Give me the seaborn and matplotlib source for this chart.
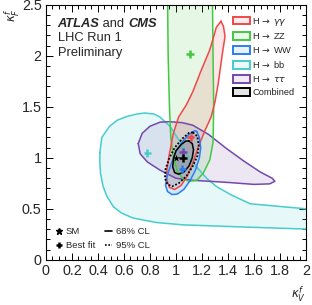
import matplotlib
matplotlib.use('Agg')
import numpy as np
import pandas as pd
import matplotlib.pyplot as plt
from matplotlib.patches import Patch
from matplotlib.lines import Line2D
from matplotlib.ticker import MultipleLocator, FuncFormatter
import seaborn as sns

sns.set_theme(style='ticks')
plt.rcParams['font.family'] = ['Liberation Sans', 'DejaVu Sans']
plt.rcParams['mathtext.fontset'] = 'dejavusans'

# ─── Contours (68% CL per channel) ───────────────────────────
bb_x = [0.415, 0.43, 0.49, 0.55, 0.62, 0.70, 0.76, 0.83, 0.877, 0.954, 1.02, 1.09, 1.16,
        1.236, 1.31, 1.42, 1.57, 1.83, 2.05, 2.05, 1.57, 1.056, 0.85, 0.67, 0.58, 0.52,
        0.47, 0.44, 0.42, 0.415, 0.415]
bb_y = [1.05, 1.20, 1.31, 1.37, 1.405, 1.43, 1.44, 1.43, 1.40, 1.31, 1.18, 1.03, 0.91,
        0.80, 0.72, 0.64, 0.55, 0.52, 0.495, 0.30, 0.32, 0.343, 0.366, 0.41, 0.46, 0.52,
        0.62, 0.72, 0.85, 0.95, 1.05]

tt_x = [0.71, 0.74, 0.80, 0.877, 0.95, 1.05, 1.13, 1.25, 1.39, 1.52, 1.65, 1.74, 1.76,
        1.72, 1.60, 1.39, 1.13, 1.0, 0.877, 0.78, 0.725, 0.71]
tt_y = [1.14, 1.24, 1.31, 1.35, 1.355, 1.345, 1.32, 1.23, 1.09, 0.97, 0.86, 0.80, 0.77,
        0.745, 0.74, 0.76, 0.78, 0.80, 0.88, 0.96, 1.04, 1.14]

zz_x = [0.935, 0.94, 0.95, 0.96, 0.98, 1.01, 1.05, 1.10, 1.16, 1.21, 1.26, 1.285, 1.29,
        1.285, 1.28, 0.935]
zz_y = [2.60, 2.0, 1.5, 1.2, 1.0, 0.87, 0.80, 0.77, 0.78, 0.85, 0.98, 1.15, 1.5,
        2.0, 2.60, 2.60]

gg_x = [1.346, 1.365, 1.377, 1.36, 1.35, 1.325, 1.30, 1.27, 1.22, 1.17, 1.13, 1.09, 1.04,
        0.99, 0.95, 0.93, 0.93, 0.945, 0.98, 1.02, 1.08, 1.13, 1.185, 1.26, 1.29, 1.31,
        1.346]
gg_y = [2.34, 2.29, 2.19, 2.05, 1.96, 1.73, 1.55, 1.40, 1.26, 1.10, 0.95, 0.83, 0.73,
        0.69, 0.71, 0.78, 0.88, 1.01, 1.24, 1.40, 1.52, 1.65, 1.83, 2.06, 2.19, 2.28,
        2.34]

ww_x = [1.16, 1.18, 1.19, 1.18, 1.15, 1.11, 1.06, 1.01, 0.97, 0.935, 0.92, 0.93, 0.96,
        1.0, 1.05, 1.10, 1.14, 1.16]
ww_y = [1.26, 1.20, 1.10, 1.0, 0.88, 0.78, 0.69, 0.645, 0.64, 0.67, 0.73, 0.82, 0.93,
        1.06, 1.16, 1.23, 1.265, 1.26]

comb68_x = [1.10, 1.125, 1.135, 1.125, 1.10, 1.06, 1.02, 0.99, 0.975, 0.98, 1.0, 1.04,
            1.075, 1.10]
comb68_y = [1.165, 1.14, 1.08, 1.0, 0.92, 0.86, 0.84, 0.855, 0.91, 0.99, 1.07, 1.13,
            1.165, 1.165]

comb95_x = [1.13, 1.165, 1.175, 1.165, 1.13, 1.08, 1.02, 0.97, 0.935, 0.915, 0.92, 0.95,
            0.99, 1.05, 1.10, 1.13]
comb95_y = [1.25, 1.21, 1.12, 1.02, 0.92, 0.82, 0.75, 0.72, 0.74, 0.80, 0.89, 1.0,
            1.10, 1.19, 1.245, 1.25]

# best-fit points
fit_labels = ['bb', 'tt', 'ZZ', 'gg', 'WW', 'comb']
fit_x = [0.78, 1.056, 1.108, 1.113, 1.05, 1.056]
fit_y = [1.045, 1.06, 2.02, 1.20, 0.89, 0.997]
sm_x = [1.0]
sm_y = [1.0]

colors = {'gg': '#f04848', 'ZZ': '#44c844', 'WW': '#2c7ef0', 'bb': '#48cccc',
          'tt': '#7448ac', 'comb': '#000000'}
legend_labels = {'gg': r'H$\,\rightarrow\,\gamma\gamma$', 'ZZ': r'H$\,\rightarrow\,$ZZ',
                 'WW': r'H$\,\rightarrow\,$WW', 'bb': r'H$\,\rightarrow\,$bb',
                 'tt': r'H$\,\rightarrow\,\tau\tau$', 'comb': 'Combined'}

fig, ax = plt.subplots(figsize=(3.12, 3.05), dpi=100)
fig.subplots_adjust(left=0.147, right=0.981, bottom=0.148, top=0.984)

contours = [('bb', bb_x, bb_y), ('tt', tt_x, tt_y), ('ZZ', zz_x, zz_y),
            ('gg', gg_x, gg_y), ('WW', ww_x, ww_y), ('comb', comb68_x, comb68_y)]
for key, xs, ys in contours:
    alpha = 0.08 if key == 'comb' else 0.13
    ax.fill(xs, ys, color=colors[key], alpha=alpha, lw=0)
    sns.lineplot(x=xs, y=ys, sort=False, estimator=None, color=colors[key],
                 lw=1.1, ax=ax)

sns.lineplot(x=comb95_x, y=comb95_y, sort=False, estimator=None, color='black',
             lw=1.3, ax=ax, linestyle=(0, (1, 1)))
ax.fill(comb95_x, comb95_y, color='black', alpha=0.06, lw=0)

fits = pd.DataFrame({'x': fit_x, 'y': fit_y, 'ch': fit_labels})
sns.scatterplot(data=fits, x='x', y='y', hue='ch', palette=colors, marker='+',
                s=30, linewidth=1.8, legend=False, ax=ax, zorder=5)
sns.scatterplot(x=sm_x, y=sm_y, marker='*', color='black', s=30, linewidth=0,
                ax=ax, zorder=6)

# ─── Axes styling ────────────────────────────────────────────
ax.set_xlim(0, 2)
ax.set_ylim(0, 2.5)
ax.xaxis.set_major_locator(MultipleLocator(0.2))
ax.xaxis.set_minor_locator(MultipleLocator(0.05))
ax.yaxis.set_major_locator(MultipleLocator(0.5))
ax.yaxis.set_minor_locator(MultipleLocator(0.1))
fmt = FuncFormatter(lambda v, p: f'{v:g}')
ax.xaxis.set_major_formatter(fmt)
ax.yaxis.set_major_formatter(fmt)
ax.tick_params(which='both', direction='in', top=True, right=True, color='black',
               width=0.7, labelsize=10.4, pad=3)
ax.tick_params(which='major', length=5)
ax.tick_params(which='minor', length=2.8)
for s in ax.spines.values():
    s.set_color('black')
    s.set_linewidth(0.8)

ax.set_xlabel(r'$\kappa_{V}^{f}$', fontsize=8.5, loc='right')
ax.xaxis.set_label_coords(1.0, -0.097)
ax.set_ylabel(r'$\kappa_{F}^{f}$', fontsize=8.5, loc='top')
ax.yaxis.set_label_coords(-0.092, 0.985)

# ─── Labels ──────────────────────────────────────────────────
t1 = ax.text(0.09, 2.255, 'ATLAS', fontsize=9.3, fontweight='bold', style='italic',
             va='bottom')
t2 = ax.annotate(' and ', xy=(1, 0), xycoords=t1, fontsize=9.3, va='bottom')
ax.annotate('CMS', xy=(1, 0), xycoords=t2, fontsize=9.3, fontweight='bold',
            style='italic', va='bottom')
ax.text(0.09, 2.117, 'LHC Run 1', fontsize=9.3, va='bottom')
ax.text(0.09, 1.97, 'Preliminary', fontsize=9.3, va='bottom')

handles = []
for key in ['gg', 'ZZ', 'WW', 'bb', 'tt', 'comb']:
    fc = matplotlib.colors.to_rgba(colors[key], 0.1)
    handles.append(Patch(facecolor=fc, edgecolor=colors[key], lw=1.4,
                         label=legend_labels[key]))
leg = ax.legend(handles=handles, loc='upper left', bbox_to_anchor=(0.719, 0.958),
                frameon=False, fontsize=6.7, handlelength=1.8, handleheight=0.9,
                handletextpad=0.25, labelspacing=0.42, borderaxespad=0, borderpad=0)
ax.add_artist(leg)

h2 = [Line2D([], [], marker='*', color='black', ls='none', ms=5, label='SM'),
      Line2D([], [], marker='+', color='black', ls='none', ms=5, mew=1.8, label='Best fit'),
      Line2D([], [], color='black', lw=1.2, label='68% CL'),
      Line2D([], [], color='black', lw=1.2, ls=(0, (1, 1)), label='95% CL')]
ax.legend(handles=h2, ncol=2, loc='upper left', bbox_to_anchor=(0.035, 0.128),
          frameon=False, fontsize=6.8, handlelength=0.8, handletextpad=0.35,
          columnspacing=1.0, labelspacing=0.55, borderaxespad=0, borderpad=0)

plt.savefig('out.png', dpi=100)
plt.close()
